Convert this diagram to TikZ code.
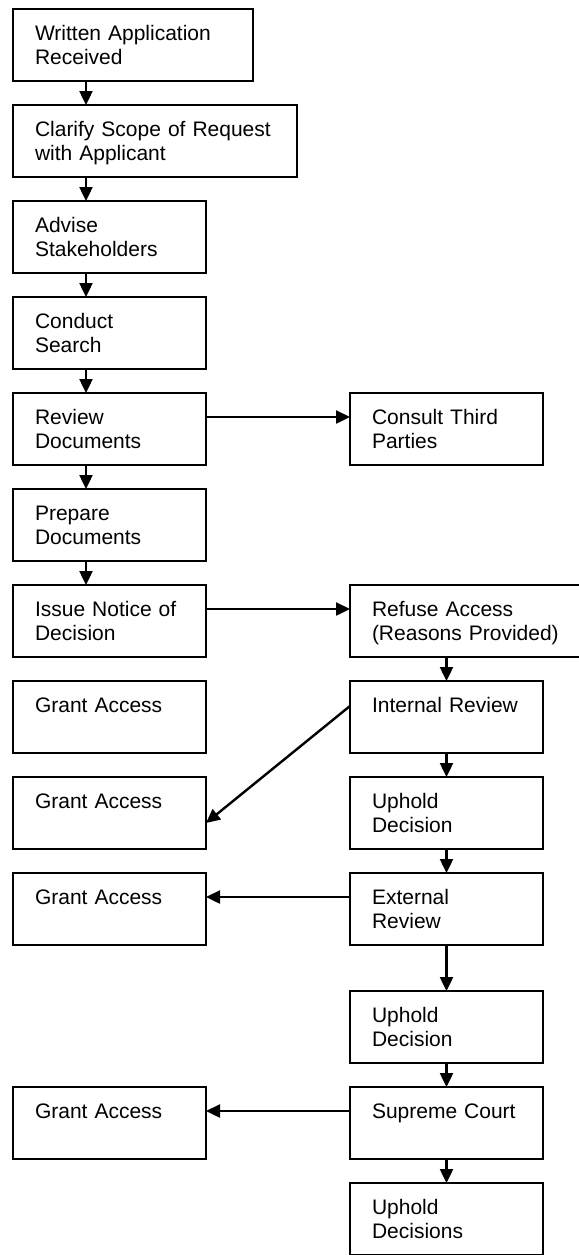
\documentclass[tikz,border=0pt]{standalone}
\usepackage{fontspec}
\setmainfont{Liberation Sans}
\usetikzlibrary{positioning,arrows.meta}

\begin{document}
\begin{tikzpicture}[
stepbox/.style={rectangle, draw=black, line width=1pt, text width=96.5pt, inner xsep=0pt, inner ysep=0pt, outer sep=0pt, text height=15.5pt, text depth=20.5pt, align=left, font=\fontsize{10.5pt}{12pt}\selectfont, execute at begin node={\leftskip=11pt}},
flow/.style={-{Triangle[length=7pt,width=6.5pt]}, line width=1.2pt},
node distance=12pt and 72pt
]
\useasboundingbox (0,0) rectangle (289.5pt,-627.5pt);

%Nodes
\node[stepbox, text width=120pt, anchor=north west] (received) at (6.5pt,-4.5pt)
		{Written Application\\Received};
\node[stepbox, text width=142pt] (clarify) [below=of received.south west, anchor=north west]
		{Clarify Scope of Request\\with Applicant};
\node[stepbox] (advise) [below=of clarify.south west, anchor=north west]
		{Advise\\Stakeholders};
\node[stepbox] (search) [below=of advise.south west, anchor=north west]
		{Conduct\\Search};
\node[stepbox] (review) [below=of search.south west, anchor=north west]
		{Review\\Documents};
\node[stepbox] (prepare) [below=of review.south west, anchor=north west]
		{Prepare\\Documents};
\node[stepbox] (notice) [below=of prepare.south west, anchor=north west]
		{Issue Notice of\\Decision};
\node[stepbox] (consult) [right=of review]
		{Consult Third\\Parties};
\node[stepbox, text width=118pt] (refuse) [right=of notice]
		{Refuse Access\\(Reasons Provided)};
\node[stepbox] (internal) [below=of refuse.south west, anchor=north west]
		{Internal Review};
\node[stepbox] (grantA) [left=of internal]
		{Grant Access};
\node[stepbox] (upholdA) [below=of internal]
		{Uphold\\Decision};
\node[stepbox] (grantB) [left=of upholdA]
		{Grant Access};
\node[stepbox] (external) [below=of upholdA]
		{External\\Review};
\node[stepbox] (grantC) [left=of external]
		{Grant Access};
\node[stepbox] (upholdB) [below=23pt of external]
		{Uphold\\Decision};
\node[stepbox] (supreme) [below=of upholdB]
		{Supreme Court};
\node[stepbox] (grantD) [left=of supreme]
		{Grant Access};
\node[stepbox] (upholdC) [below=of supreme]
		{Uphold\\Decisions};

%Lines
\draw[flow] ([xshift=36.5pt]received.south west) -- ([xshift=36.5pt]clarify.north west);
\draw[flow] ([xshift=36.5pt]clarify.south west) -- ([xshift=36.5pt]advise.north west);
\draw[flow] ([xshift=36.5pt]advise.south west) -- ([xshift=36.5pt]search.north west);
\draw[flow] ([xshift=36.5pt]search.south west) -- ([xshift=36.5pt]review.north west);
\draw[flow] ([xshift=36.5pt]review.south west) -- ([xshift=36.5pt]prepare.north west);
\draw[flow] ([xshift=36.5pt]prepare.south west) -- ([xshift=36.5pt]notice.north west);
\draw[flow] ([yshift=-12pt]review.north east) -- ([yshift=-12pt]consult.north west);
\draw[flow] ([yshift=-12pt]notice.north east) -- ([yshift=-12pt]refuse.north west);
\draw[flow] ([xshift=48.25pt]refuse.south west) -- (internal.north);
\draw[flow] ([yshift=-12.5pt]internal.north west) -- ([yshift=-23pt]grantB.north east);
\draw[flow] (internal.south) -- (upholdA.north);
\draw[flow] (upholdA.south) -- (external.north);
\draw[flow] ([yshift=-12pt]external.north west) -- ([yshift=-12pt]grantC.north east);
\draw[flow] (external.south) -- (upholdB.north);
\draw[flow] (upholdB.south) -- (supreme.north);
\draw[flow] ([yshift=-12pt]supreme.north west) -- ([yshift=-12pt]grantD.north east);
\draw[flow] (supreme.south) -- (upholdC.north);

\end{tikzpicture}
\end{document}
